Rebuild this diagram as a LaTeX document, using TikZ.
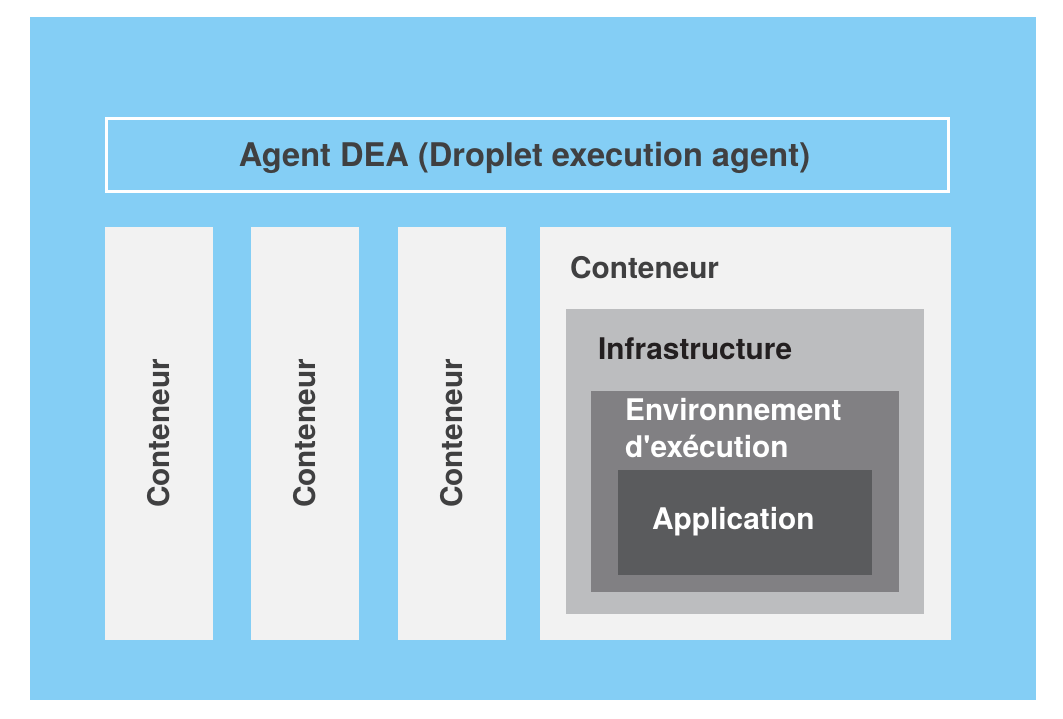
\documentclass[tikz,border=0pt]{standalone}
\usepackage{fontspec}
\setmainfont{TeX Gyre Heros}
\definecolor{skyblue}{HTML}{84CEF5}
\definecolor{paper}{HTML}{F2F2F2}
\definecolor{infragray}{HTML}{BCBDBF}
\definecolor{envgray}{HTML}{818083}
\definecolor{appgray}{HTML}{5A5B5D}
\definecolor{darktext}{HTML}{404041}
\definecolor{blacktext}{HTML}{231F20}
\tikzset{
  box/.style={anchor=north west,inner sep=0pt,outer sep=0pt},
  label/.style={inner sep=0pt,font=\fontsize{29.8}{36.5}\selectfont\bfseries},
}
\begin{document}
\begin{tikzpicture}[x=1pt,y=-1pt]
    \useasboundingbox (0,0) rectangle (1063,718);
    \fill[skyblue] (30,17) rectangle (1036,700);

    \node[box,draw=white,line width=2.5pt,minimum width=842pt,minimum height=73pt] (agent) at (106.25,118.25) {};
    \node[label,text=darktext,anchor=base,font=\fontsize{32.6}{38}\selectfont\bfseries] (agenttext) at (524.5,166) {Agent DEA (Droplet execution agent)};

    \begin{scope}[every node/.style={box,fill=paper,minimum width=108pt,minimum height=413pt}]
        \node (col1) at (105,227) {};
        \node (col2) at (251,227) {};
        \node (col3) at (398,227) {};
    \end{scope}
    \begin{scope}[every node/.style={label,text=darktext,rotate=90}]
        \node (col1text) at (col1.center) {Conteneur};
        \node (col2text) at (col2.center) {Conteneur};
        \node (col3text) at (col3.center) {Conteneur};
    \end{scope}

    \node[box,fill=paper,minimum width=411pt,minimum height=413pt] (cont) at (540,227) {};
    \node[box,fill=infragray,minimum width=358pt,minimum height=305pt] (infra) at (566,309) {};
    \node[box,fill=envgray,minimum width=308pt,minimum height=201pt] (env) at (591,391) {};
    \node[box,fill=appgray,minimum width=254pt,minimum height=105pt] (app) at (618,470) {};

    \node[label,text=darktext,anchor=base west] (conttext) at (570,278) {Conteneur};
    \node[label,text=blacktext,anchor=base west] (infratext) at (598,359) {Infrastructure};
    \node[label,text=white,anchor=base west,align=left] (envtext) at (625,457) {Environnement\\d\textquotesingle exécution};
    \node[label,text=white,anchor=base west] (apptext) at (652,529) {Application};
\end{tikzpicture}
\end{document}
